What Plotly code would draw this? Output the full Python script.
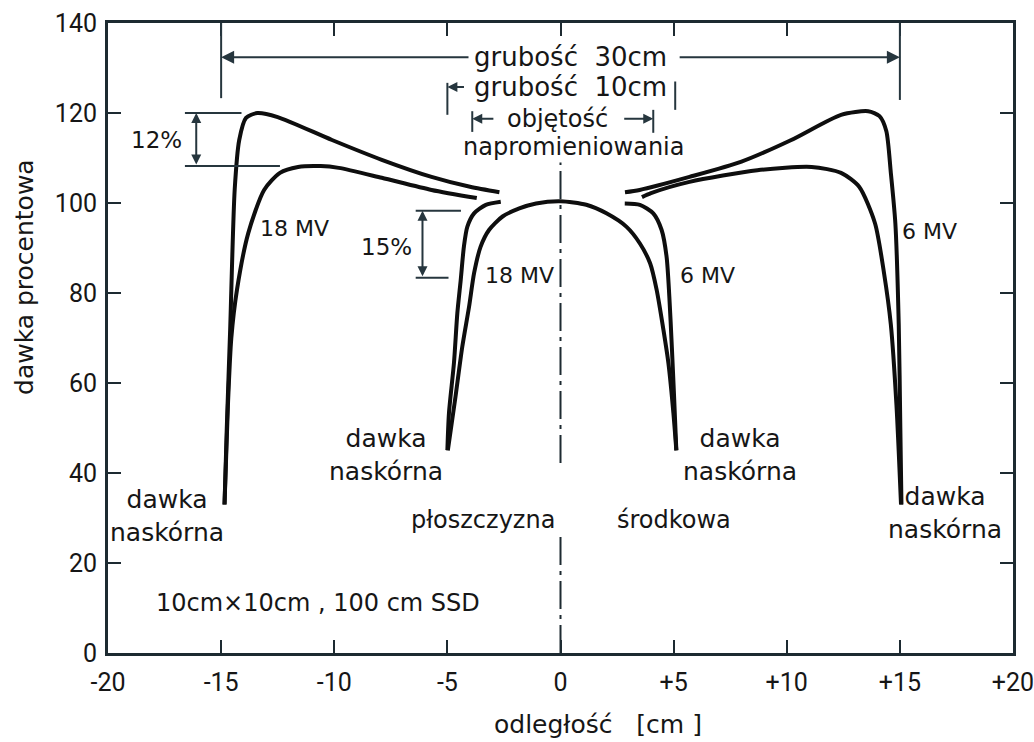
import plotly.graph_objects as go

# ---------------- data ----------------
# 30 cm patient, 6 MV (upper curves, peak ~120 %)
x30_6_left = [-14.85, -14.75, -14.6, -14.4, -14.2, -13.9, -13.4, -12.5, -10.1, -7.9, -5.7, -4.0, -2.7]
y30_6_left = [33, 50, 72, 103, 114, 118.9, 120.0, 119.1, 114.0, 109.6, 105.8, 103.6, 102.4]
x30_6_right = [2.85, 3.5, 5.7, 8.0, 10.2, 12.4, 13.6, 14.1, 14.4, 14.6, 14.8, 14.95, 15.02, 15.07]
y30_6_right = [102.4, 102.9, 105.8, 109.2, 114.0, 119.6, 120.4, 119.3, 116.0, 106.7, 95.5, 73, 50, 33]

# 30 cm patient, 18 MV (lower curves, peak ~108 %)
x30_18_left = [-14.85, -14.7, -14.55, -14.3, -13.8, -13.1, -12.4, -11.6, -10.6, -9.8, -7.9, -5.7, -3.7]
y30_18_left = [33, 55, 70, 80.7, 93.3, 102.9, 106.7, 108.0, 108.2, 107.8, 105.6, 102.9, 101.1]
x30_18_right = [3.6, 4.0, 5.7, 8.7, 11.1, 12.4, 13.2, 13.9, 14.3, 14.6, 14.85, 15.05]
y30_18_right = [101.3, 102.2, 104.7, 107.3, 108.0, 106.7, 103.6, 95.5, 84.4, 73, 55, 33]

# 10 cm patient, 6 MV (steep edges)
x10_6_left = [-5.0, -4.93, -4.71, -4.56, -4.41, -4.27, -4.12, -3.82, -3.3, -2.64]
y10_6_left = [45.1, 53.3, 64.4, 75.5, 82.9, 90.3, 94.7, 97.7, 99.6, 100.3]
x10_6_right = [2.84, 3.51, 4.1, 4.47, 4.69, 4.81, 4.92, 5.02, 5.12]
y10_6_right = [99.9, 99.6, 97.7, 94.0, 88.0, 79.2, 68.1, 57.0, 45.1]

# 10 cm patient, 18 MV (dome)
x10_18 = [-4.98, -4.64, -4.34, -4.04, -3.82, -3.53, -3.16, -2.56, -1.82, -1.08, 0.0,
          1.14, 2.03, 2.92, 3.51, 3.96, 4.25, 4.55, 4.77, 4.99, 5.12]
y10_18 = [45.0, 57.0, 68.1, 77.0, 84.4, 90.3, 94.0, 97.0, 98.8, 99.9, 100.4,
          99.6, 97.7, 94.7, 91.0, 86.6, 80.7, 71.8, 64.4, 53.3, 45.0]

# axes ticks
x_tickvals = [-20, -15, -10, -5, 0, 5, 10, 15, 20]
x_ticktext = ["-20", "-15", "-10", "-5", "0", "+5", "+10", "+15", "+20"]
y_tickvals = [0, 20, 40, 60, 80, 100, 120, 140]

# ---------------- style ----------------
CURVE = "#0e0e0e"
FRAME = "#1d2a31"
DIM = "#26363e"
TXT = "#161616"
FONT = "DejaVu Sans"

fig = go.Figure()

curves = [
    (x30_6_left, y30_6_left), (x30_6_right, y30_6_right),
    (x30_18_left, y30_18_left), (x30_18_right, y30_18_right),
    (x10_6_left, y10_6_left), (x10_6_right, y10_6_right),
    (x10_18, y10_18),
]
for cx, cy in curves:
    fig.add_trace(go.Scatter(x=cx, y=cy, mode="lines",
                             line=dict(color=CURVE, width=4, shape="spline", smoothing=0.7),
                             hoverinfo="skip", showlegend=False))

# mid-plane dash-dot line
for yy in ([0, 25.8], [42.2, 109]):
    fig.add_trace(go.Scatter(x=[0, 0], y=yy, mode="lines",
                             line=dict(color=FRAME, width=2, dash="28px,6px,4px,6px"),
                             hoverinfo="skip", showlegend=False))

shapes = []
def seg(x0, y0, x1, y1, w=2, c=DIM):
    shapes.append(dict(type="line", xref="x", yref="y", x0=x0, y0=y0, x1=x1, y1=y1,
                       line=dict(color=c, width=w)))

# thickness 30 cm markers
seg(-15, 140, -15, 123.3)
seg(15, 140, 15, 122.9)
# thickness 10 cm markers
seg(-5.0, 126.7, -5.0, 119.6)
seg(5.07, 127.0, 5.07, 120.7)
# irradiated volume markers
seg(-3.9, 120.4, -3.9, 115.8)
seg(4.1, 120.7, 4.1, 115.6)
# 12 % bracket
seg(-16.6, 120.0, -14.1, 120.0)
seg(-16.6, 108.2, -12.4, 108.2)
# 15 % bracket
seg(-6.4, 98.3, -4.4, 98.3)
seg(-6.4, 83.4, -4.95, 83.4)

ann = []
def arrow(x, y, ax, ay, both=False, size=1.3):
    ann.append(dict(x=x, y=y, ax=ax, ay=ay, xref="x", yref="y", axref="x", ayref="y",
                    text="", showarrow=True, arrowhead=2, arrowsize=size, arrowwidth=2,
                    arrowcolor=DIM, arrowside="end+start" if both else "end",
                    startarrowhead=2, startarrowsize=size, standoff=0, startstandoff=0))

arrow(-15, 132.4, -4.0, 132.4)
arrow(15, 132.4, 5.2, 132.4)
arrow(-5.0, 125.8, -4.2, 125.8, size=1.0)
arrow(-3.9, 118.7, -2.9, 118.7, size=1.0)
arrow(4.1, 118.7, 2.75, 118.7, size=1.0)
arrow(-16.1, 120.0, -16.1, 108.2, both=True, size=1.0)
arrow(-6.1, 98.3, -6.1, 83.4, both=True, size=1.0)

def text(x, y, s, size=23, xanchor="center", **kw):
    d = dict(x=x, y=y, xref="x", yref="y", text=s, showarrow=False,
             font=dict(family=FONT, size=size, color=TXT), xanchor=xanchor, yanchor="middle")
    d.update(kw)
    ann.append(d)

text(0.45, 132.4, "grubość  30cm", size=26)
text(0.45, 125.8, "grubość  10cm", size=26)
text(-0.15, 118.7, "objętość", size=24)
text(0.57, 112.4, "napromieniowania", size=24)
text(-17.85, 114.0, "12%")
text(-7.7, 90.2, "15%")
text(-11.75, 94.4, "18 MV", size=22)
text(-1.8, 84.0, "18 MV", size=22)
text(6.5, 84.0, "6 MV", size=22)
text(16.3, 93.6, "6 MV", size=22)
text(-17.4, 30.5, "dawka<br>naskórna", size=25)
text(-7.7, 44.0, "dawka<br>naskórna", size=25)
text(7.95, 44.0, "dawka<br>naskórna", size=25)
text(17.0, 31.1, "dawka<br>naskórna", size=25)
text(-3.43, 29.5, "płoszczyzna", size=24)
text(5.0, 29.5, "środkowa", size=24)
text(-10.7, 11.1, "10cm×10cm , 100 cm SSD", size=24)

# axis titles
ann.append(dict(x=-0.092, y=83.5, xref="paper", yref="y", text="dawka procentowa",
                showarrow=False, textangle=-90, font=dict(family=FONT, size=25, color=TXT),
                xanchor="center", yanchor="middle"))
ann.append(dict(x=1.66, y=-0.113, xref="x", yref="paper", text="odległość   [cm ]",
                showarrow=False, font=dict(family=FONT, size=25, color=TXT),
                xanchor="center", yanchor="middle"))

fig.update_layout(
    width=1034, height=742,
    margin=dict(l=108, r=21, t=23, b=89, autoexpand=False),
    paper_bgcolor="white", plot_bgcolor="white",
    shapes=shapes, annotations=ann, showlegend=False,
)
axis_common = dict(showgrid=False, zeroline=False, showline=True, linecolor=FRAME, linewidth=3,
                   mirror="ticks", ticks="inside", ticklen=13, tickwidth=2, tickcolor=FRAME,
                   tickfont=dict(family="Roboto", size=25, color=TXT))
fig.update_xaxes(range=[-20, 20], tickvals=x_tickvals, ticktext=x_ticktext,
                 ticklabeloverflow="allow", ticklabelstandoff=5, **axis_common)
fig.update_yaxes(range=[0, 140], tickvals=y_tickvals, ticklabeloverflow="allow",
                 ticklabelstandoff=3, **axis_common)

fig.write_html("out.html")
